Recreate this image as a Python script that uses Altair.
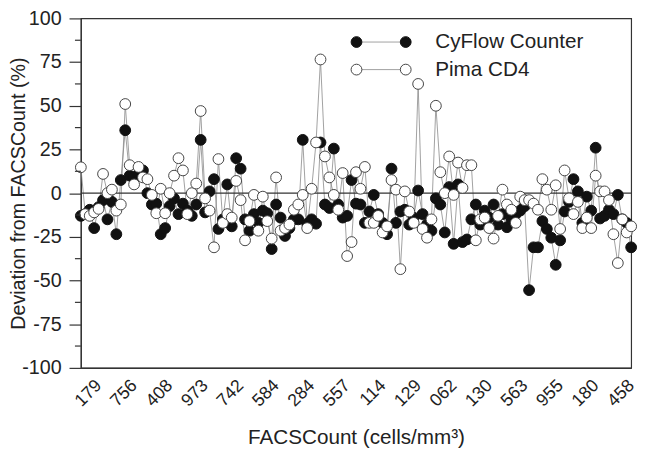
import altair as alt
import pandas as pd

# x-axis tick labels (every 8th sample)
x_labels = ["179", "756", "408", "973", "742", "584", "284", "557",
            "114", "129", "062", "130", "563", "955", "180", "458"]
label_step = 8
label_start = 4

cyflow = [-13, -12, -9.5, -20, -8, -4, -15, -5, -23.5, 7.5,
          36, 10, 9, 11, 13, 0, -6.5, -6, -23.5, -20,
          -7.5, -3, -12, -6, -10, -13, -6.5, 30.5, -11, 1,
          8, -20.5, -15, 5, -19, 20, 14, -15, -21.5, -12,
          -17, -10, -11.5, -32, -6.5, -14, -24.5, -20, -15, -15,
          30.5, -17.5, -15, -17.5, 29, -6.5, -8.5, 25.5, -6.5, -14,
          -13, 7.5, -6, -6.5, -17, -10.5, -1, -12, -17, -23.5,
          14, -17, -10.5, -9.5, -18, -14, 1.5, -12, -18, -21.5,
          -3, -6.5, -22.5, 3.5, -29, 5, -28, -26.5, -15, -6.5,
          -18, -10, -14, -6.5, -18, -12, -19.5, -15, -12, -10,
          -7.5, -55.5, -31, -31, -16, -20.5, -25.5, -41, -27, -10.5,
          -5, 8, 1, -17, -2, -10, 26, -14.5, -13, -9.5,
          -12, -1, -15, -17, -31]

pima = [14.8, -12, -13, -11, -9, 11, 0, 2, -10, -6.5,
        51, 16, 5, 15, 9, 8, -1, -11.5, 2.5, -11.5,
        0, 10, 20, 13, -12, 0, 5.5, 47, -3, -10,
        -31, 19.5, -17, -12, -14, 7, -4, -27, -16, -1,
        -21.5, -2, -16, -26, 9, -21.5, -20, -18, -9.5, -6.5,
        -1, -20, 2.5, 29, 76.5, 21, 9, -1, -9.5, 11.5,
        -36, -28, 12, 2.5, 15, -17, -17, -13, -22.5, -19,
        7.5, 2, -43.5, 1, -10.5, -17, 62.5, -20.5, -25.5, -15,
        50, 12, 0, 21, -1, 17.5, 3, 16, 16, -27,
        -15, -14, -20, -26, -13, 2, -6.5, -9.5, -17, -2,
        -4, -4, -6, -9.5, 8, 2, -9.5, 4.5, -20.5, 13,
        -3, -12, -5, -20, -14, -20, 10, 1, 1, -4,
        -23.5, -40, -15, -22.5, -19]

y_major = [-100, -75, -50, -25, 0, 25, 50, 75, 100]
y_minor = [-87.5, -62.5, -37.5, -12.5, 12.5, 37.5, 62.5, 87.5]

n = len(cyflow)
df_c = pd.DataFrame({"i": list(range(n)), "v": cyflow})
df_p = pd.DataFrame({"i": list(range(len(pima))), "v": pima})

tick_vals = [label_start + label_step * k for k in range(len(x_labels))]
label_arr = "[" + ",".join("'" + s + "'" for s in x_labels) + "]"

FONT = "Liberation Sans"
W, H = 559, 355
PT = 120

xscale = alt.Scale(domain=[0, n - 1], nice=False, zero=False)
yscale = alt.Scale(domain=[-100, 100], nice=False)

xaxis = alt.Axis(values=tick_vals,
                 labelExpr=label_arr + "[round((datum.value-%d)/%d)]" % (label_start, label_step),
                 labelAngle=-45, labelAlign="right", labelBaseline="middle",
                 labelPadding=15, tickSize=0, grid=False,
                 labelFont=FONT, labelFontSize=18, labelColor="#222",
                 title="FACSCount (cells/mm³)", titleFont=FONT, titleFontSize=21,
                 titleFontWeight="normal", titleColor="#222",
                 titleY=71, titleBaseline="middle",
                 domainColor="#333", domainWidth=1.2)

yaxis = alt.Axis(values=y_major, tickSize=12, tickColor="#333", tickWidth=1.2,
                 labelPadding=8, grid=False, labelExpr="'' + datum.value",
                 labelFont=FONT, labelFontSize=20, labelColor="#222",
                 title="Deviation from FACSCount (%)", titleFont=FONT, titleFontSize=20,
                 titleFontWeight="normal", titleColor="#222",
                 titleX=-63, titleY=H / 2, titleAngle=-90, titleAlign="center",
                 titleBaseline="middle",
                 domainColor="#333", domainWidth=1.2)

X = alt.X("i:Q", scale=xscale, axis=xaxis)
Y = alt.Y("v:Q", scale=yscale, axis=yaxis)

zero = alt.Chart(pd.DataFrame({"v": [0]})).mark_rule(color="#333", strokeWidth=1.3).encode(y=Y)

minor = alt.Chart(pd.DataFrame({"v": y_minor})).mark_rule(color="#333", strokeWidth=1.2).encode(
    y=Y, x=alt.value(-6), x2=alt.value(0))

line_c = alt.Chart(df_c).mark_line(color="#888", strokeWidth=0.8).encode(x=X, y=Y)
line_p = alt.Chart(df_p).mark_line(color="#888", strokeWidth=0.8).encode(x=X, y=Y)

pts_c = alt.Chart(df_c).mark_point(shape="circle", filled=True, size=PT, fill="#111",
                                   stroke="#111", strokeWidth=1, opacity=1).encode(x=X, y=Y)
pts_p = alt.Chart(df_p).mark_point(shape="circle", filled=True, size=PT, fill="white",
                                   stroke="#444", strokeWidth=1, opacity=1).encode(x=X, y=Y)

legend_layers = []
for name, fill, stroke, ypix in [("CyFlow Counter", "#111", "#111", 24),
                                  ("Pima CD4", "white", "#444", 52)]:
    d = pd.DataFrame({"label": [name]})
    base = alt.Chart(d)
    legend_layers.append(base.mark_rule(color="#888", strokeWidth=0.8).encode(
        x=alt.value(280), x2=alt.value(330), y=alt.value(ypix)))
    for xp in (280, 330):
        legend_layers.append(base.mark_point(shape="circle", filled=True, size=PT, fill=fill,
                                             stroke=stroke, strokeWidth=1, opacity=1).encode(
            x=alt.value(xp), y=alt.value(ypix)))
    legend_layers.append(base.mark_text(align="left", baseline="middle", font=FONT,
                                        fontSize=21, color="#222").encode(
        x=alt.value(360), y=alt.value(ypix), text="label:N"))

chart = alt.layer(line_c, line_p, zero, pts_c, pts_p, minor, *legend_layers).properties(
    width=W, height=H,
    background="white",
    autosize=alt.AutoSizeParams(type="none"),
    padding={"left": 74, "top": 7, "right": 10, "bottom": 90},
).configure_view(stroke="#333", strokeWidth=1.2)

chart.save("out.html", embed_options={"renderer": "svg", "actions": False})
